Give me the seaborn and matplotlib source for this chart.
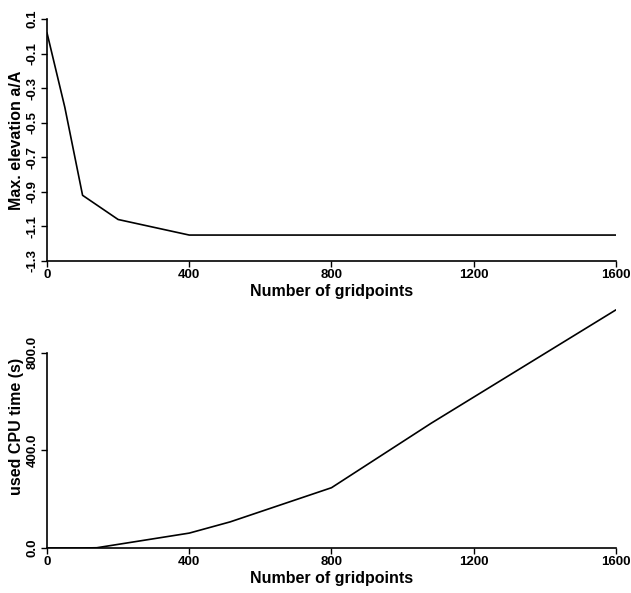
import matplotlib
matplotlib.use("Agg")
import matplotlib.pyplot as plt
import seaborn as sns
import pandas as pd

# Top panel data
grid_top = [0, 50, 100, 200, 400, 515, 800, 1080, 1600]
elev = [0.02, -0.41, -0.92, -1.06, -1.15, -1.15, -1.15, -1.15, -1.15]

# Bottom panel data
grid_bot = [0, 100, 140, 400, 515, 800, 1080, 1600]
cpu = [0, 0, 1, 61, 107, 247, 511, 976]

x_ticks = [0, 400, 800, 1200, 1600]
y_ticks_top = [0.1, -0.1, -0.3, -0.5, -0.7, -0.9, -1.1, -1.3]
y_ticks_bot = [0.0, 400.0, 800.0]

sns.set_theme(style="white")
plt.rcParams['font.family'] = ['Liberation Sans', 'DejaVu Sans']
plt.rcParams['font.weight'] = 'bold'
plt.rcParams['text.color'] = 'black'
plt.rcParams['axes.labelcolor'] = 'black'

fig = plt.figure(figsize=(6.31, 5.93), dpi=100)
ax1 = fig.add_axes([0.0745, 0.5599, 0.9017, 0.408])
ax2 = fig.add_axes([0.0745, 0.0759, 0.9017, 0.4115])

df1 = pd.DataFrame({"x": grid_top, "y": elev})
df2 = pd.DataFrame({"x": grid_bot, "y": cpu})

sns.lineplot(data=df1, x="x", y="y", ax=ax1, color="black", linewidth=1.2)
sns.lineplot(data=df2, x="x", y="y", ax=ax2, color="black", linewidth=1.2)

for ax in (ax1, ax2):
    ax.set_xlim(0, 1600)
    ax.set_xticks(x_ticks)
    ax.set_xticklabels([str(t) for t in x_ticks], fontsize=9.5, fontweight='bold')
    ax.spines['top'].set_visible(False)
    ax.spines['right'].set_visible(False)
    for s in ('left', 'bottom'):
        ax.spines[s].set_color('black')
        ax.spines[s].set_linewidth(1.2)
    ax.tick_params(axis='both', direction='out', length=4, width=1.0,
                   colors='black', labelcolor='black', pad=2, bottom=True, left=True)
    ax.set_xlabel("Number of gridpoints", fontsize=11.5, fontweight='bold',
                  labelpad=2, color='black')

ax1.set_ylim(-1.3, 0.1)
ax1.set_yticks(y_ticks_top)
ax1.set_yticklabels([f"{t:.1f}" for t in y_ticks_top], fontsize=9.5,
                    fontweight='bold', rotation=90, va='center')
ax1.set_ylabel("Max. elevation a/A", fontsize=11.5, fontweight='bold',
               labelpad=2, color='black')

ax2.set_ylim(0, 1000)
ax2.spines['left'].set_bounds(0, 800)
ax2.set_yticks(y_ticks_bot)
ax2.set_yticklabels([f"{t:.1f}" for t in y_ticks_bot], fontsize=9.5,
                    fontweight='bold', rotation=90, va='center')
ax2.set_ylabel("used CPU time (s)", fontsize=11.5, fontweight='bold',
               labelpad=2, color='black')

fig.savefig("out.png", dpi=100, facecolor='white')
